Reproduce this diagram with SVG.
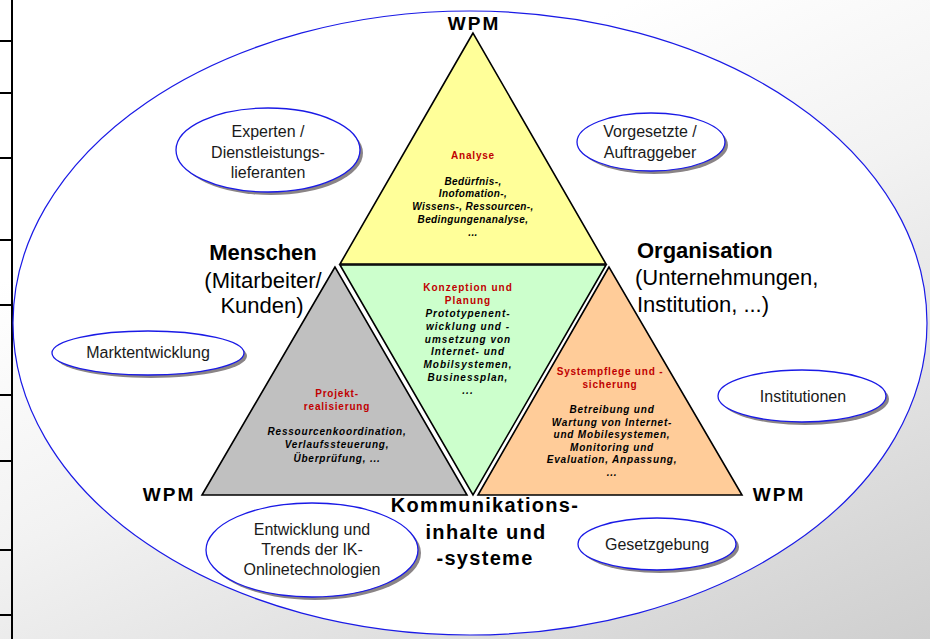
<svg xmlns="http://www.w3.org/2000/svg" width="930" height="639" viewBox="0 0 930 639">
<defs>
<linearGradient id="bg" x1="0.45" y1="0.15" x2="1" y2="1">
<stop offset="0" stop-color="#ffffff"/>
<stop offset="0.35" stop-color="#f2f2f2"/>
<stop offset="1" stop-color="#cfcfcf"/>
</linearGradient>
<style>
.tri{stroke:#000;stroke-width:1.6;stroke-linejoin:miter}
.oval{fill:#fff;stroke:#1a1ae6;stroke-width:1.3}
.shadow{fill:#8a8486}
.lbl{font-family:"Liberation Sans",Arial,sans-serif;font-size:16px;fill:#1a1a1a;text-anchor:middle}
.big{font-family:"Liberation Sans",Arial,sans-serif;font-size:22px;fill:#000}
.bigb{font-family:"Liberation Sans",Arial,sans-serif;font-size:22px;font-weight:bold;fill:#000}
.wpm{font-family:"Liberation Sans",Arial,sans-serif;font-size:19px;font-weight:bold;letter-spacing:2px;fill:#000;text-anchor:middle}
.kom{font-family:"Liberation Sans",Arial,sans-serif;font-size:20px;font-weight:bold;letter-spacing:1.3px;fill:#000;text-anchor:middle}
.red{font-family:"Liberation Sans",Arial,sans-serif;font-size:10px;font-weight:bold;fill:#c00000;text-anchor:middle;letter-spacing:0.8px}
.it{font-family:"Liberation Sans",Arial,sans-serif;font-size:10px;font-weight:bold;font-style:italic;fill:#000;text-anchor:middle;letter-spacing:0.7px}
</style>
</defs>
<rect x="0" y="0" width="930" height="639" fill="url(#bg)"/>
<g id="ruler" stroke="#000" stroke-width="2">
<line x1="12" y1="0" x2="12" y2="639"/>
<line x1="0" y1="41" x2="12" y2="41"/>
<line x1="0" y1="93" x2="12" y2="93"/>
<line x1="0" y1="158" x2="12" y2="158"/>
<line x1="0" y1="240" x2="12" y2="240"/>
<line x1="0" y1="305" x2="12" y2="305"/>
<line x1="0" y1="395" x2="12" y2="395"/>
<line x1="0" y1="461" x2="12" y2="461"/>
<line x1="0" y1="550" x2="12" y2="550"/>
<line x1="0" y1="615" x2="12" y2="615"/>
</g>
<g id="outer">
<ellipse cx="470" cy="323" rx="457" ry="312" fill="#fff" stroke="#1a1ae6" stroke-width="1.2"/>
</g>
<g id="connectors"></g>
<g id="tri-top">
<polygon class="tri" points="473,33 340,264 606,264" fill="#ffff99"/>
<text class="red" x="473" y="159">Analyse</text>
<text class="it" x="473" y="185" style="letter-spacing:0.4px">Bedürfnis-,</text>
<text class="it" x="473" y="197" style="letter-spacing:0.4px">Inofomation-,</text>
<text class="it" x="473" y="210" style="letter-spacing:0.4px">Wissens-, Ressourcen-,</text>
<text class="it" x="473" y="223" style="letter-spacing:0.4px">Bedingungenanalyse,</text>
<text class="it" x="473" y="236" style="letter-spacing:0.4px">...</text>
</g>
<g id="tri-mid">
<polygon class="tri" points="340,265 606,265 473,495" fill="#ccffcc"/>
<text class="red" x="468" y="291" style="letter-spacing:1px">Konzeption und</text>
<text class="red" x="468" y="304" style="letter-spacing:1px">Planung</text>
<text class="it" x="468" y="317" style="letter-spacing:1px">Prototypenent-</text>
<text class="it" x="468" y="330" style="letter-spacing:1px">wicklung und -</text>
<text class="it" x="468" y="343" style="letter-spacing:1px">umsetzung von</text>
<text class="it" x="468" y="355" style="letter-spacing:1px">Internet- und</text>
<text class="it" x="468" y="368" style="letter-spacing:1px">Mobilsystemen,</text>
<text class="it" x="468" y="381" style="letter-spacing:1px">Businessplan,</text>
<text class="it" x="468" y="394" style="letter-spacing:1px">...</text>
</g>
<g id="tri-left">
<polygon class="tri" points="335,267 202,495 467,495" fill="#c0c0c0"/>
<text class="red" x="337" y="397">Projekt-</text>
<text class="red" x="337" y="410">realisierung</text>
<text class="it" x="337" y="435" style="letter-spacing:0.8px">Ressourcenkoordination,</text>
<text class="it" x="337" y="448" style="letter-spacing:0.8px">Verlaufssteuerung,</text>
<text class="it" x="337" y="462" style="letter-spacing:0.8px">Überprüfung, ...</text>
</g>
<g id="tri-right">
<polygon class="tri" points="609,267 478,495 742,495" fill="#ffcc99"/>
<text class="red" x="610" y="375">Systempflege und -</text>
<text class="red" x="610" y="388">sicherung</text>
<text class="it" x="612" y="413" style="letter-spacing:0.8px">Betreibung und</text>
<text class="it" x="612" y="426" style="letter-spacing:0.8px">Wartung von Internet-</text>
<text class="it" x="612" y="438" style="letter-spacing:0.8px">und Mobilesystemen,</text>
<text class="it" x="612" y="451" style="letter-spacing:0.8px">Monitoring und</text>
<text class="it" x="612" y="463" style="letter-spacing:0.8px">Evaluation, Anpassung,</text>
<text class="it" x="612" y="476" style="letter-spacing:0.8px">...</text>
</g>
<g id="wpm-top"><text class="wpm" x="474" y="30">WPM</text></g>
<g id="wpm-left"><text class="wpm" x="169" y="501">WPM</text></g>
<g id="wpm-right"><text class="wpm" x="779" y="501">WPM</text></g>
<g id="menschen">
<text class="bigb" x="263" y="260" text-anchor="middle">Menschen</text>
<text class="big" x="263" y="288" text-anchor="middle">(Mitarbeiter/</text>
<text class="big" x="262" y="313" text-anchor="middle">Kunden)</text>
</g>
<g id="organisation">
<text class="bigb" x="637" y="258">Organisation</text>
<text class="big" x="635" y="285">(Unternehmungen,</text>
<text class="big" x="637" y="312">Institution, ...)</text>
</g>
<g id="kommunikation">
<text class="kom" x="485" y="512">Kommunikations-</text>
<text class="kom" x="486" y="539">inhalte und</text>
<text class="kom" x="485" y="565">-systeme</text>
</g>
<g id="experten">
<ellipse class="shadow" cx="271" cy="153" rx="92" ry="42"/>
<ellipse class="oval" cx="268" cy="150" rx="92" ry="42"/>
<text class="lbl" x="268" y="137">Experten /</text>
<text class="lbl" x="268" y="158">Dienstleistungs-</text>
<text class="lbl" x="268" y="178">lieferanten</text>
</g>
<g id="vorgesetzte">
<ellipse class="shadow" cx="654" cy="145" rx="74" ry="29"/>
<ellipse class="oval" cx="651" cy="142" rx="74" ry="29"/>
<text class="lbl" x="650" y="137">Vorgesetzte /</text>
<text class="lbl" x="650" y="158">Auftraggeber</text>
</g>
<g id="markt">
<ellipse class="shadow" cx="151" cy="356" rx="96" ry="22"/>
<ellipse class="oval" cx="148" cy="353" rx="96" ry="22"/>
<text class="lbl" x="148" y="358">Marktentwicklung</text>
</g>
<g id="institutionen">
<ellipse class="shadow" cx="805" cy="399" rx="84" ry="26"/>
<ellipse class="oval" cx="802" cy="396" rx="84" ry="26"/>
<text class="lbl" x="803" y="402">Institutionen</text>
</g>
<g id="entwicklung">
<ellipse class="shadow" cx="315" cy="553" rx="106" ry="47"/>
<ellipse class="oval" cx="312" cy="550" rx="106" ry="47"/>
<text class="lbl" x="312" y="535">Entwicklung und</text>
<text class="lbl" x="312" y="555">Trends der IK-</text>
<text class="lbl" x="312" y="575">Onlinetechnologien</text>
</g>
<g id="gesetz">
<ellipse class="shadow" cx="660" cy="547" rx="79" ry="26"/>
<ellipse class="oval" cx="657" cy="544" rx="79" ry="26"/>
<text class="lbl" x="657" y="550">Gesetzgebung</text>
</g>
</svg>
